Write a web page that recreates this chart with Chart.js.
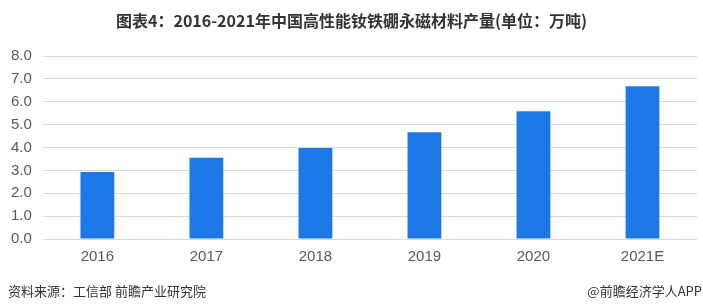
<!DOCTYPE html>
<html>
<head>
<meta charset="utf-8">
<script src="https://cdn.jsdelivr.net/npm/chart.js@4"></script>
<style>
  html, body { margin: 0; padding: 0; background: #fff; }
  #wrap { position: relative; width: 703px; height: 304px; overflow: hidden; font-family: "Noto Sans CJK SC", sans-serif; }
  #title { position: absolute; left: 0; width: 703px; top: 9px; text-align: center; font-size: 16px; font-weight: bold; color: #333; line-height: 22px; }
  #source { position: absolute; left: 8px; top: 282px; font-size: 13px; color: #333; line-height: 18px; }
  #brand { position: absolute; right: 1px; top: 282px; font-size: 13px; color: #333; line-height: 18px; }
  #chartBox { position: absolute; left: 0; top: 0; width: 703px; height: 304px; }
</style>
</head>
<body>
<div id="wrap">
  <div id="chartBox"><canvas id="barChart"></canvas></div>
  <div id="title">图表4：2016-2021年中国高性能钕铁硼永磁材料产量(单位：万吨)</div>
  <div id="source">资料来源：工信部 前瞻产业研究院</div>
  <div id="brand">@前瞻经济学人APP</div>
</div>
<script>
// data
const years = ['2016', '2017', '2018', '2019', '2020', '2021E'];
const output = [2.93, 3.55, 3.98, 4.67, 5.59, 6.68];
const yMin = 0;
const yMax = 8;

const ctx = document.getElementById('barChart');

new Chart(ctx, {
    type: 'bar',
    data: {
        labels: years,
        datasets: [{
            label: '产量',
            data: output,
            backgroundColor: '#1c78e6',
            borderWidth: 0,
            barPercentage: 0.31,
            categoryPercentage: 1
        }]
    },
    options: {
        responsive: true,
        maintainAspectRatio: false,
        animation: false,
        layout: {
            padding: { top: 56, bottom: 29, left: 0, right: 6 }
        },
        plugins: {
            legend: { display: false },
            tooltip: { enabled: false }
        },
        scales: {
            y: {
                min: yMin,
                max: yMax,
                border: { display: false },
                grid: { color: '#d9d9d9', drawTicks: false },
                ticks: {
                    stepSize: 1,
                    padding: 11,
                    color: '#595959',
                    font: { family: 'Liberation Sans', size: 15 },
                    callback: (v) => v.toFixed(1)
                }
            },
            x: {
                border: { display: false },
                grid: { display: false, drawTicks: false },
                ticks: {
                    padding: 9,
                    color: '#595959',
                    font: { family: 'Liberation Sans', size: 15 }
                }
            }
        }
    }
});
</script>
</body>
</html>
